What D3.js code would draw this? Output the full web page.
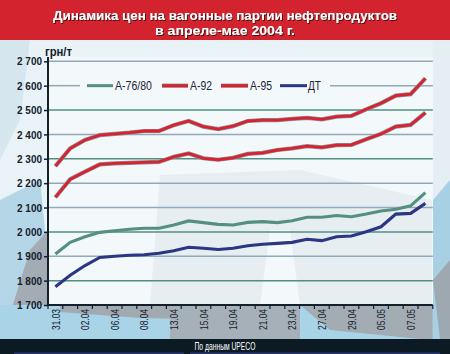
<!DOCTYPE html>
<html><head><meta charset="utf-8">
<script src="https://cdn.jsdelivr.net/npm/d3@7/dist/d3.min.js"></script>
<style>body{margin:0;padding:0;background:#fff;}svg{display:block;}</style>
</head><body>
<svg id="chart" width="450" height="354"></svg>
<script>
const dates = ["31.03","01.04","02.04","05.04","06.04","07.04","08.04","09.04","13.04","14.04","15.04","16.04","19.04","20.04","21.04","22.04","23.04","26.04","27.04","28.04","29.04","30.04","05.05","06.05","07.05","11.05"];
const tickLabels = ["31.03","02.04","06.04","08.04","13.04","15.04","19.04","21.04","23.04","27.04","29.04","05.05","07.05"];
const a76 = [1909,1957,1980,1998,2005,2011,2015,2015,2028,2045,2038,2031,2028,2039,2042,2038,2046,2060,2060,2067,2062,2073,2086,2093,2107,2161];
const a92 = [2142,2216,2247,2277,2281,2283,2285,2287,2308,2322,2302,2296,2304,2320,2324,2336,2343,2352,2347,2356,2357,2380,2402,2432,2439,2489];
const a95 = [2270,2343,2377,2397,2402,2407,2414,2414,2438,2455,2432,2422,2434,2455,2459,2459,2464,2468,2462,2473,2476,2503,2528,2559,2565,2630];
const dt  = [1775,1822,1862,1895,1900,1904,1906,1912,1923,1937,1933,1928,1933,1943,1949,1953,1957,1970,1964,1980,1983,2001,2021,2073,2076,2117];
const seriesNames = ["А-76/80","А-92","А-95","ДТ"];
const yTicks = [1700,1800,1900,2000,2100,2200,2300,2400,2500,2600,2700];

const series = [
  {name:seriesNames[0], values:a76, color:"#548f82", outline:false},
  {name:seriesNames[1], values:a92, color:"#d9222f", outline:true},
  {name:seriesNames[2], values:a95, color:"#d9222f", outline:true},
  {name:seriesNames[3], values:dt,  color:"#2c3784", outline:false}
];

const svg = d3.select("#chart");
const defs = svg.append("defs");
const f = defs.append("filter").attr("id","sh").attr("x","-5%").attr("y","-20%").attr("width","110%").attr("height","150%");
f.append("feDropShadow").attr("dx",1).attr("dy",1).attr("stdDeviation",0.4).attr("flood-color","#3a0d10").attr("flood-opacity",0.9);

const L = 48, R = 432.8, T = 57, B = 305;
const x = d3.scaleBand().domain(dates).range([L, R]);
const cx = d => x(d) + x.bandwidth()/2;
const y = d3.scaleLinear().domain([1700, 2700]).range([B, 61.3]);
const loc = d3.formatLocale({decimal:",", thousands:" ", grouping:[3], currency:["",""]});
const fmt = loc.format(",");

// backgrounds
svg.append("rect").attr("x",0).attr("y",0).attr("width",450).attr("height",354).attr("fill","#e9f2f7");
svg.append("path").attr("d","M0,40 L30,40 L20,120 L0,160 Z").attr("fill","#d6e6ee");
svg.append("path").attr("d","M0,200 L40,180 L48,260 L48,305 L0,320 Z").attr("fill","#b4d6e6");
svg.append("path").attr("d","M8,320 L30,250 L48,230 L48,305 Z").attr("fill","#a3acb4");
svg.append("rect").attr("x",0).attr("y",B).attr("width",450).attr("height",339-B).attr("fill","#a9d3e7");
svg.append("path").attr("d","M60,305 L250,305 L240,320 L140,318 L60,312 Z").attr("fill","#a1a9b1");
svg.append("path").attr("d","M170,305 L300,305 L300,339 L170,339 Z").attr("fill","#a6b0b8");
svg.append("path").attr("d","M300,305 L440,305 L450,339 L420,339 L330,330 Z").attr("fill","#a3abb3");
svg.append("rect").attr("x",R).attr("y",40).attr("width",450-R).attr("height",299).attr("fill","#e4eef3");
svg.append("path").attr("d","M433,200 L450,180 L450,339 L433,339 Z").attr("fill","#a8d0e4");
svg.append("path").attr("d","M433,280 L450,260 L450,339 L440,339 Z").attr("fill","#9ea8b0");
svg.append("rect").attr("x",L).attr("y",T).attr("width",R-L).attr("height",B-T).attr("fill","#f3f8fb");
svg.append("path").attr("d","M150,305 L160,175 L300,170 L432,200 L432,305 Z").attr("fill","#e3ebf0").attr("opacity",0.8);
svg.append("path").attr("d","M260,305 L270,230 L290,230 L300,305 Z").attr("fill","#f3f8fb");

// gridlines
const tealSet = new Set([2500,2300,2000,1800]);
const grid = svg.append("g");
yTicks.filter(v => v > 1700).forEach(v => {
  const col = tealSet.has(v) ? "#528f82" : "#92a9b8";
  const segs = v === 2600 ? [[L,80],[330,R]] : [[L,R]];
  segs.forEach(([a,b]) => grid.append("line").attr("x1",a).attr("x2",b).attr("y1",y(v)).attr("y2",y(v))
    .attr("stroke",col).attr("stroke-width",1.5));
});

// lines
const line = d3.line().x((d,i) => cx(dates[i])).y(d => y(d));
series.forEach(s => {
  if (s.outline) {
    svg.append("path").datum(s.values).attr("d",line).attr("fill","none")
      .attr("stroke","#8d8f96").attr("stroke-width",4.2);
  }
  svg.append("path").datum(s.values).attr("d",line).attr("fill","none")
    .attr("stroke",s.color).attr("stroke-width",s.outline ? 2.8 : 3.1);
});

// legend
const legX = [[87,113,115],[162,188,190],[221,248,250],[280,307,308]];
const legW = [37,22,22,13];
const leg = svg.append("g");
series.forEach((s,i) => {
  const [a,b,t] = legX[i];
  const ly = y(2600);
  if (s.outline) leg.append("line").attr("x1",a).attr("x2",b).attr("y1",ly).attr("y2",ly).attr("stroke","#8d8f96").attr("stroke-width",4.2);
  leg.append("line").attr("x1",a).attr("x2",b).attr("y1",ly).attr("y2",ly).attr("stroke",s.color).attr("stroke-width",3);
  leg.append("text").attr("x",t).attr("y",ly+4.5).text(s.name)
    .attr("font-family","Liberation Sans, Arial, sans-serif").attr("font-size",12.5)
    .attr("fill","#1b2533").attr("textLength",legW[i]).attr("lengthAdjust","spacingAndGlyphs");
});

// y axis
const yAxis = d3.axisLeft(y).tickValues(yTicks).tickFormat(fmt).tickSize(4).tickPadding(2);
const ya = svg.append("g").attr("transform",`translate(${L},0)`).call(yAxis);
ya.select(".domain").attr("stroke","#14202c").attr("stroke-width",2).attr("d",`M0,${T}V${B}`);
ya.selectAll(".tick line").attr("stroke","#14202c").attr("stroke-width",1.5);
ya.selectAll(".tick text").attr("font-family","Liberation Sans, Arial, sans-serif").attr("font-weight","bold")
  .attr("font-size",11.5).attr("fill","#14202c").attr("textLength",25).attr("lengthAdjust","spacingAndGlyphs");
svg.append("text").attr("x",45).attr("y",56).text("грн/т").attr("font-family","Liberation Sans, Arial, sans-serif")
  .attr("font-weight","bold").attr("font-size",12).attr("fill","#14202c").attr("textLength",27).attr("lengthAdjust","spacingAndGlyphs");

// x axis
const xAxis = d3.axisBottom(x).tickValues(tickLabels).tickSize(0).tickPadding(0);
const xa = svg.append("g").attr("transform",`translate(0,${B})`).call(xAxis);
xa.select(".domain").remove();
xa.selectAll(".tick text").attr("transform","rotate(-90)").attr("text-anchor","end")
  .attr("x",-4).attr("y",0).attr("dy","0.36em")
  .attr("font-family","Liberation Sans, Arial, sans-serif").attr("font-size",11.5).attr("fill","#14202c")
  .attr("textLength",21).attr("lengthAdjust","spacingAndGlyphs");
const bt = svg.append("g");
dates.concat([null]).forEach(d => {
  const xx = d === null ? R : x(d);
  bt.append("line").attr("x1",xx).attr("x2",xx).attr("y1",B).attr("y2",B+4).attr("stroke","#14202c").attr("stroke-width",1.2);
});
svg.append("line").attr("x1",L-1).attr("x2",R).attr("y1",B).attr("y2",B).attr("stroke","#14202c").attr("stroke-width",2);

// title
svg.append("rect").attr("x",0).attr("y",0).attr("width",450).attr("height",40).attr("fill","#d3232f");
const title = [["Динамика цен на вагонные партии нефтепродуктов",19.5,344],["в апреле-мае 2004 г.",35,140]];
title.forEach(([t,ty,w]) => {
  svg.append("text").attr("x",225).attr("y",ty).attr("text-anchor","middle").text(t)
    .attr("font-family","Liberation Sans, Arial, sans-serif").attr("font-weight","bold").attr("font-size",13.5)
    .attr("fill","#ffffff").attr("filter","url(#sh)").attr("textLength",w).attr("lengthAdjust","spacingAndGlyphs");
});

// footer
svg.append("rect").attr("x",0).attr("y",339).attr("width",450).attr("height",15).attr("fill","#0c1a24");
svg.append("rect").attr("x",14).attr("y",352.5).attr("width",170).attr("height",1.5).attr("fill","#2a3470");
svg.append("rect").attr("x",190).attr("y",352.5).attr("width",250).attr("height",1.5).attr("fill","#2a3470");
svg.append("text").attr("x",225).attr("y",350).attr("text-anchor","middle").text("По данным UPECO")
  .attr("font-family","Liberation Sans, Arial, sans-serif").attr("font-size",10).attr("fill","#ffffff")
  .attr("textLength",61).attr("lengthAdjust","spacingAndGlyphs");
</script>
</body></html>
